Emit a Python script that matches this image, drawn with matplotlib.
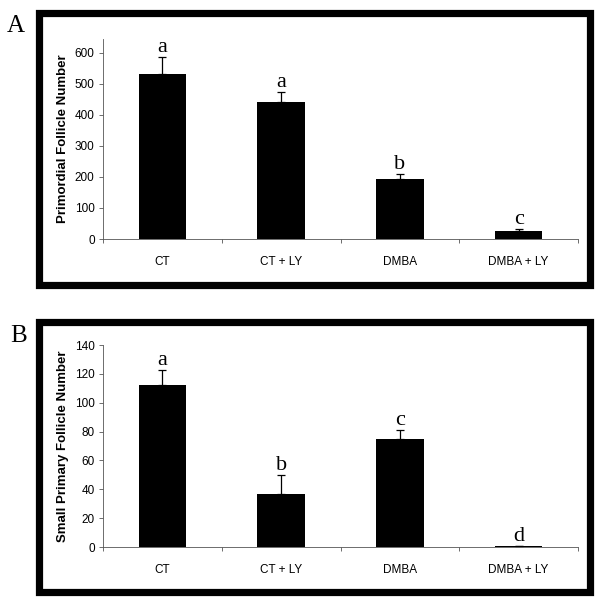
import matplotlib
matplotlib.use('Agg')
import matplotlib.pyplot as plt
from matplotlib.patches import Rectangle

groups = ['CT', 'CT + LY', 'DMBA', 'DMBA + LY']

primordial = [532, 442, 193, 27]
primordial_err = [55, 32, 17, 4]
primordial_letters = ['a', 'a', 'b', 'c']

small_primary = [112.5, 37, 75, 0.7]
small_primary_err = [10, 13, 6, 0.3]
small_primary_letters = ['a', 'b', 'c', 'd']

sans = 'Liberation Sans'
serif = 'Liberation Serif'

fig = plt.figure(figsize=(6.03, 6.05), dpi=100)
W, H = 603.0, 605.0


def frame(x0, y0, x1, y1):
    # thick black box around each panel (pixel coords, top-left origin)
    fig.patches.append(Rectangle((x0 / W, 1 - y1 / H), (x1 - x0) / W, (y1 - y0) / H,
                                 transform=fig.transFigure, fill=False,
                                 edgecolor='black', linewidth=5.2))


def panel(rect, means, errs, letters, ylim, step, ylabel):
    ax = fig.add_axes(rect)
    xs = [i + 0.5 for i in range(len(groups))]
    ax.bar(xs, means, width=0.4, color='black')
    ax.errorbar(xs, means, yerr=[[0] * len(errs), errs], fmt='none',
                ecolor='black', elinewidth=0.9, capsize=3, capthick=0.9)
    for x, m, e, t in zip(xs, means, errs, letters):
        ax.annotate(t, (x, m + e), xytext=(0, 0), textcoords='offset points',
                    ha='center', va='bottom', fontsize=16, family=serif)
    ax.set_xlim(0, len(groups))
    ax.set_ylim(*ylim)
    ax.set_yticks(range(0, int(ylim[1]) + 1, step))
    ax.set_xticks(range(len(groups) + 1))
    ax.set_xticklabels([])
    ax.set_xticks(xs, minor=True)
    ax.set_xticklabels(groups, minor=True, fontsize=8.5, family=sans)
    ax.tick_params(axis='x', which='minor', length=0, pad=12)
    ax.tick_params(axis='x', which='major', length=3, width=0.6, color='#555555')
    ax.tick_params(axis='y', length=3, width=0.6, color='#555555', labelsize=8.5, pad=3)
    for lab in ax.get_yticklabels():
        lab.set_family(sans)
    ax.set_ylabel(ylabel, fontsize=9.5, fontweight='bold', family=sans, labelpad=4)
    for s in ['top', 'right']:
        ax.spines[s].set_visible(False)
    for s in ['left', 'bottom']:
        ax.spines[s].set_linewidth(0.6)
        ax.spines[s].set_color('#555555')
    return ax


frame(39.5, 12.5, 589.5, 284.5)
frame(39.5, 321.5, 589.5, 591.5)

panel([103 / W, 1 - 239 / H, 475 / W, 200 / H], primordial, primordial_err,
      primordial_letters, (0, 645), 100, 'Primordial Follicle Number')
panel([103 / W, 1 - 547 / H, 475 / W, 202 / H], small_primary, small_primary_err,
      small_primary_letters, (0, 140), 20, 'Small Primary Follicle Number')

fig.text(7 / W, 1 - 32 / H, 'A', fontsize=18, family=serif)
fig.text(10 / W, 1 - 342 / H, 'B', fontsize=18, family=serif)

fig.savefig('out.png', dpi=100)
